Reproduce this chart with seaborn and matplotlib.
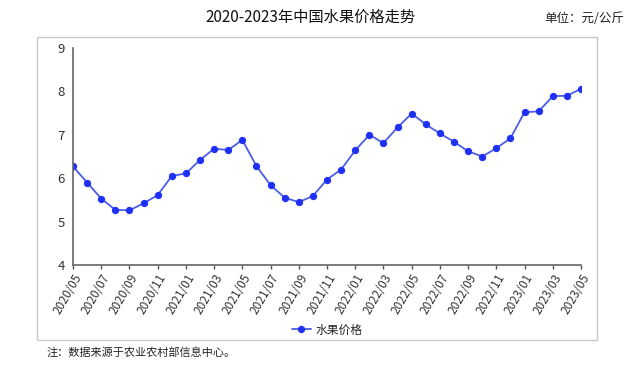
import matplotlib
matplotlib.use("Agg")
import matplotlib.pyplot as plt
from matplotlib.patches import Rectangle
import seaborn as sns
import pandas as pd

months = ["2020/05","2020/06","2020/07","2020/08","2020/09","2020/10","2020/11","2020/12",
          "2021/01","2021/02","2021/03","2021/04","2021/05","2021/06","2021/07","2021/08",
          "2021/09","2021/10","2021/11","2021/12","2022/01","2022/02","2022/03","2022/04",
          "2022/05","2022/06","2022/07","2022/08","2022/09","2022/10","2022/11","2022/12",
          "2023/01","2023/02","2023/03","2023/04","2023/05"]
prices = [6.27, 5.90, 5.53, 5.27, 5.26, 5.42, 5.61, 6.05,
          6.11, 6.42, 6.68, 6.65, 6.88, 6.28, 5.84, 5.55,
          5.45, 5.59, 5.97, 6.20, 6.64, 7.00, 6.81, 7.17,
          7.49, 7.24, 7.03, 6.84, 6.62, 6.50, 6.69, 6.92,
          7.52, 7.54, 7.89, 7.90, 8.06]
series_name = "水果价格"
title = "2020-2023年中国水果价格走势"
unit = "单位：元/公斤"
note = "注：数据来源于农业农村部信息中心。"

sns.set_theme(style="white")
plt.rcParams['font.family'] = ['Noto Sans CJK SC', 'DejaVu Sans']

df = pd.DataFrame({"idx": range(len(months)), "month": months, "price": prices, "s": series_name})

fig = plt.figure(figsize=(6.4, 3.65), dpi=100)
fig.patch.set_facecolor("white")
fig.patches.append(Rectangle((37/640, 1-340/365), (597-37)/640, (340-37)/365,
                             transform=fig.transFigure, fill=False, edgecolor="#c8c8c8", lw=1))
ax = fig.add_axes([73/640, 1-265/365, (581-73)/640, (265-48)/365])

sns.lineplot(data=df, x="idx", y="price", hue="s", palette=["#4b5de6"], ax=ax,
             marker="o", markersize=4.5, markerfacecolor="#1f30f5", markeredgecolor="#1f30f5",
             linewidth=1.3)

ax.set_xlim(0, len(months) - 1)
ax.set_ylim(4, 9)
ax.set_yticks([4, 5, 6, 7, 8, 9])
ax.set_yticklabels(["4", "5", "6", "7", "8", "9"], fontsize=9.5, color="#333333")
ax.set_xticks(range(0, len(months), 2))
ax.set_xticklabels(months[::2], rotation=60, ha="right", rotation_mode="anchor",
                   fontsize=8.5, color="#333333")
ax.tick_params(axis="x", length=3, width=1, color="#555555", bottom=True, pad=2)
ax.tick_params(axis="y", length=0, pad=6)
ax.set_xlabel("")
ax.set_ylabel("")
for s in ["top", "right"]:
    ax.spines[s].set_visible(False)
for s in ["left", "bottom"]:
    ax.spines[s].set_color("#666666")
    ax.spines[s].set_linewidth(1.2)

leg = ax.legend(loc="center", bbox_to_anchor=(0.5, -0.3), frameon=False, fontsize=8.5,
                handlelength=1.6, handletextpad=0.4)
leg.set_title(None)

fig.text(0.485, 1-17/365, title, ha="center", va="center", fontsize=11, color="#111111")
fig.text(0.975, 1-19/365, unit, ha="right", va="center", fontsize=9, color="#222222")
fig.text(47/640, 1-352/365, note, ha="left", va="center", fontsize=8, color="#222222")

fig.savefig("out.png", dpi=100)
